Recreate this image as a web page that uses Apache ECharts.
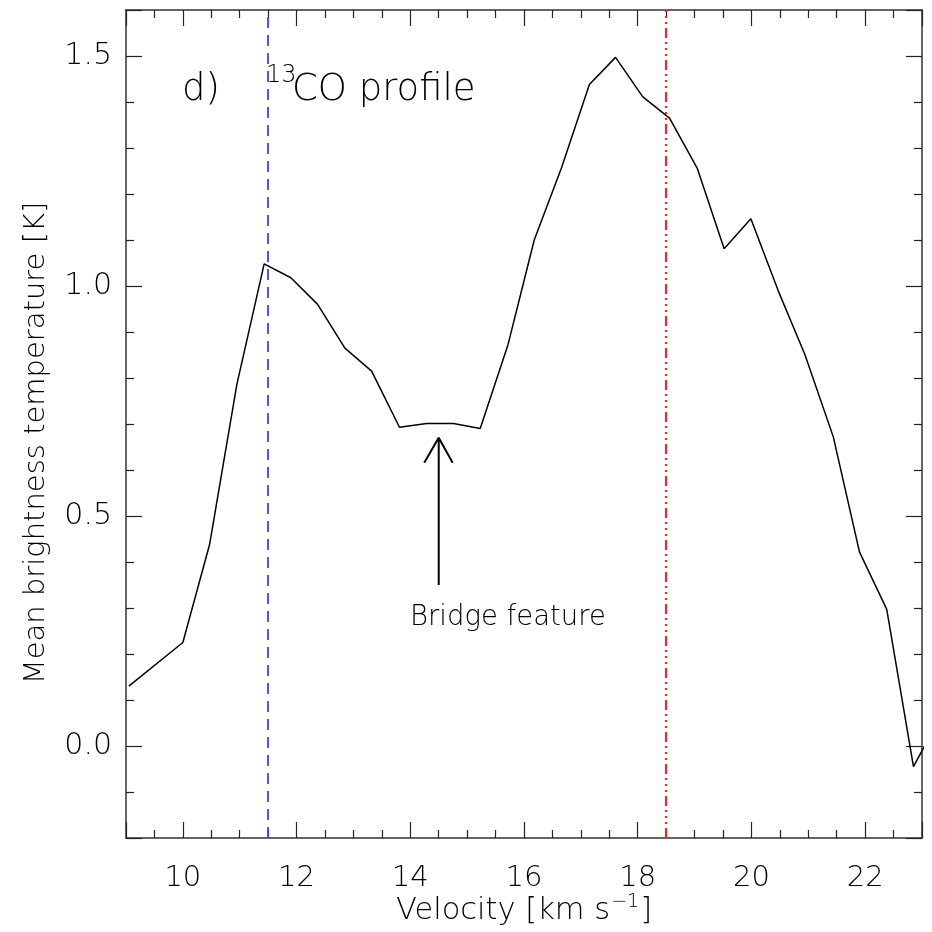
<!DOCTYPE html>
<html>
<head>
<meta charset="utf-8">
<script src="https://cdn.jsdelivr.net/npm/echarts@6/dist/echarts.min.js"></script>
<style>
html,body{margin:0;padding:0;background:#fff;}
#chart{width:932px;height:932px;}
</style>
</head>
<body>
<div id="chart"></div>
<script>
// ---- data ----
var velocity = [9.05, 10.0, 10.47, 10.95, 11.43, 11.90, 12.37, 12.85, 13.32, 13.81, 14.29, 14.76, 15.23, 15.72, 16.18, 16.66, 17.15, 17.61, 18.09, 18.56, 19.05, 19.52, 19.99, 20.47, 20.94, 21.44, 21.90, 22.38, 22.85, 23.33];
var temperature = [0.13, 0.225, 0.438, 0.786, 1.048, 1.018, 0.96, 0.865, 0.815, 0.693, 0.701, 0.701, 0.69, 0.873, 1.10, 1.257, 1.438, 1.497, 1.411, 1.365, 1.255, 1.081, 1.146, 0.99, 0.851, 0.672, 0.422, 0.297, -0.045, 0.065];
var blueLineV = 11.5;
var redLineV = 18.5;
var arrowShaft = [[14.5, 0.35], [14.5, 0.67]];
var arrowHead = [[14.245, 0.616], [14.5, 0.67], [14.745, 0.616]];
var xRange = [9, 23];
var yRange = [-0.2, 1.6];

var FONT = '"DejaVu Sans", "Liberation Sans", sans-serif';
var W = '200';
var lineData = velocity.map(function (v, i) { return [v, temperature[i]]; });

function xAxisDef(pos, showLabels) {
  return {
    type: 'value', position: pos, min: xRange[0], max: xRange[1], splitNumber: 7,
    axisLine: { show: true, onZero: false, lineStyle: { color: '#333', width: 1.5 } },
    axisTick: { show: true, inside: true, length: 16, lineStyle: { color: '#222', width: 1.2 } },
    minorTick: { show: true, splitNumber: 4, length: 8, lineStyle: { color: '#222', width: 1.2 } },
    axisLabel: { show: showLabels, showMinLabel: false, showMaxLabel: false, margin: 26,
      color: '#000', fontSize: 29, fontFamily: FONT, fontWeight: W },
    splitLine: { show: false }
  };
}
function yAxisDef(pos, showLabels) {
  return {
    type: 'value', position: pos, min: yRange[0], max: yRange[1], splitNumber: 4,
    axisLine: { show: true, onZero: false, lineStyle: { color: '#333', width: 1.5 } },
    axisTick: { show: true, inside: true, length: 16, lineStyle: { color: '#222', width: 1.2 } },
    minorTick: { show: true, splitNumber: 5, length: 8, lineStyle: { color: '#222', width: 1.2 } },
    axisLabel: { show: showLabels, showMinLabel: false, showMaxLabel: false, margin: 14,
      color: '#000', fontSize: 30, fontFamily: FONT, fontWeight: W,
      formatter: function (v) { return v.toFixed(1); } },
    splitLine: { show: false }
  };
}

var chart = echarts.init(document.getElementById('chart'), null, { renderer: 'canvas' });
chart.setOption({
  animation: false,
  backgroundColor: '#fff',
  grid: { left: 126, right: 10, top: 10, bottom: 94, containLabel: false },
  xAxis: [xAxisDef('bottom', true), xAxisDef('top', false)],
  yAxis: [yAxisDef('left', true), yAxisDef('right', false)],
  series: [
    {
      type: 'line', data: lineData, xAxisIndex: 0, yAxisIndex: 0,
      showSymbol: false, symbol: 'none', clip: true,
      lineStyle: { color: '#000', width: 1.5 },
      markLine: {
        silent: true, symbol: 'none', label: { show: false },
        data: [
          { xAxis: blueLineV, lineStyle: { color: '#3344ff', width: 1.8, type: [11, 7] } },
          { xAxis: redLineV, lineStyle: { color: '#ff2020', width: 2.2, type: [10, 4, 2, 4, 2, 4, 2, 4] } }
        ]
      }
    },
    {
      type: 'line', data: arrowShaft, showSymbol: false, symbol: 'none',
      lineStyle: { color: '#000', width: 2 }
    },
    {
      type: 'line', data: arrowHead, showSymbol: false, symbol: 'none',
      lineStyle: { color: '#000', width: 2 }
    }
  ],
  graphic: [
    { type: 'text', left: 182, top: 72, style: { text: 'd)', font: W + ' 37px ' + FONT, fill: '#000' } },
    { type: 'text', left: 266, top: 64, style: { text: '13', font: W + ' 24px ' + FONT, fill: '#000' } },
    { type: 'text', left: 292, top: 72, style: { text: 'CO profile', font: W + ' 37px ' + FONT, fill: '#000' } },
    { type: 'text', left: 410, top: 604, style: { text: 'Bridge feature', font: W + ' 27.5px ' + FONT, fill: '#000' } },
    { type: 'text', x: 36, y: 443, rotation: Math.PI / 2,
      style: { text: 'Mean brightness temperature [K]', font: W + ' 29px ' + FONT, fill: '#000',
        align: 'center', verticalAlign: 'middle' } },
    { type: 'text', x: 524, y: 910,
      style: { text: '{n|Velocity [km s}{s|\u22121}{n|]}', align: 'center', verticalAlign: 'middle',
        rich: { n: { font: W + ' 30.5px ' + FONT, fill: '#000', verticalAlign: 'bottom' },
                s: { font: W + ' 19px ' + FONT, fill: '#000', padding: [0, 1, 15, 1] } } } }
  ]
});
</script>
</body>
</html>
